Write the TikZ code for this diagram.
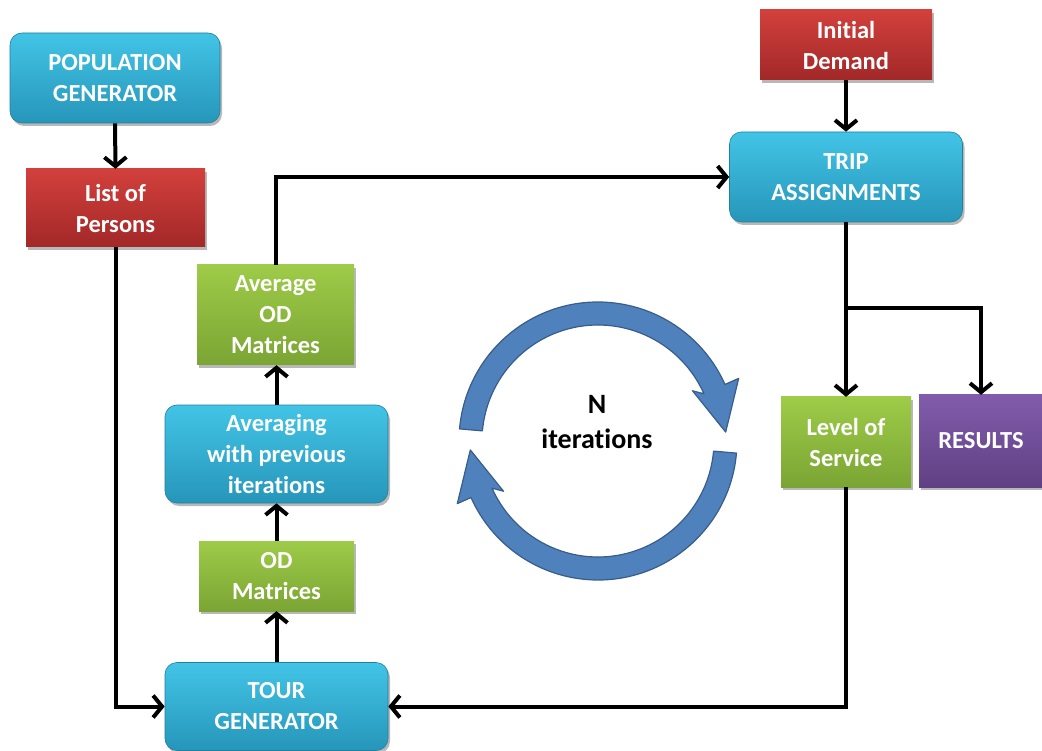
\documentclass[tikz,border=0pt]{standalone}
\usepackage{fontspec}
\setmainfont[Ligatures=NoCommon]{Carlito}
\usetikzlibrary{arrows.meta,shadows,calc}
\definecolor{cyTop}{RGB}{66,196,230}
\definecolor{cyBot}{RGB}{38,150,186}
\definecolor{rdTop}{RGB}{210,64,60}
\definecolor{rdBot}{RGB}{162,40,40}
\definecolor{grTop}{RGB}{158,203,72}
\definecolor{grBot}{RGB}{122,165,52}
\definecolor{puTop}{RGB}{130,92,172}
\definecolor{puBot}{RGB}{96,64,132}
\definecolor{cirFill}{RGB}{79,129,189}
\definecolor{cirLine}{RGB}{56,93,138}
\tikzset{
  box/.style={text=white, font=\bfseries\fontsize{24.5}{31}\selectfont, align=center, inner sep=0pt,
    drop shadow={shadow xshift=2pt, shadow yshift=-3pt, opacity=0.28, fill=black}},
  cyanbox/.style={box, rounded corners=12pt, top color=cyTop, bottom color=cyBot, draw=cyBot!85!black, line width=0.6pt},
  redbox/.style={box, top color=rdTop, bottom color=rdBot},
  greenbox/.style={box, top color=grTop, bottom color=grBot},
  purplebox/.style={box, top color=puTop, bottom color=puBot},
  arr/.style={line width=4pt, -{Straight Barb[length=9pt,width=22pt]}},
  circarrow/.style={fill=cirFill, draw=cirLine, line width=1.2pt, line join=round},
}
\begin{document}
\begin{tikzpicture}[x=1pt,y=1pt]
\useasboundingbox (0,0) rectangle (1042,-751);
% nodes
\node[cyanbox, minimum width=210pt, minimum height=90pt] (pop) at (115,-78) {POPULATION\\GENERATOR};
\node[redbox, minimum width=179pt, minimum height=78pt] (list) at (115.5,-208) {List of\\Persons};
\node[redbox, minimum width=172pt, minimum height=70pt] (init) at (846,-45) {Initial\\Demand};
\node[cyanbox, minimum width=233pt, minimum height=90pt] (trip) at (846,-177) {TRIP\\ASSIGNMENTS};
\node[greenbox, minimum width=157pt, minimum height=100pt] (avgod) at (275.5,-315) {Average\\OD\\Matrices};
\node[cyanbox, minimum width=223pt, minimum height=98pt] (avging) at (276.5,-454) {Averaging\\with previous\\iterations};
\node[greenbox, minimum width=155pt, minimum height=70pt] (od) at (276.5,-576) {OD\\Matrices};
\node[cyanbox, minimum width=223pt, minimum height=88pt] (tour) at (276.5,-706.5) {TOUR\\GENERATOR};
\node[greenbox, minimum width=130pt, minimum height=90pt] (los) at (846,-442) {Level of\\Service};
\node[purplebox, minimum width=124pt, minimum height=92pt] (res) at (981,-441) {RESULTS};
% circular arrows
\coordinate (c) at (598,-441);
\path[circarrow]
  ([shift={(175:139)}]c) arc[start angle=175, end angle=24, radius=139]
  -- ([shift={(24:154)}]c) -- ([shift={(4:128)}]c) -- ([shift={(28:107)}]c)
  -- ([shift={(24:116)}]c) arc[start angle=24, end angle=175, radius=116] -- cycle;
\path[circarrow]
  ([shift={(-5:139)}]c) arc[start angle=-5, end angle=-156, radius=139]
  -- ([shift={(-156:154)}]c) -- ([shift={(-176:128)}]c) -- ([shift={(-152:107)}]c)
  -- ([shift={(-156:116)}]c) arc[start angle=-156, end angle=-5, radius=116] -- cycle;
\node[font=\bfseries\fontsize{28}{35}\selectfont, align=center, inner sep=0pt] (iter) at (597,-422) {N\\iterations};
% connectors
\draw[arr] (pop.south) -- (list.north);
\draw[arr] (list.south) |- (tour.west);
\draw[arr] (tour.north) -- (od.south);
\draw[arr] (od.north) -- (avging.south);
\draw[arr] (avging.north) -- (avging.north |- avgod.south);
\draw[arr] (avgod.north) |- (trip.west);
\draw[arr] (init.south) -- (trip.north);
\draw[arr] (trip.south) -- (los.north);
\coordinate (br) at ($(trip.south)+(0,-86)$);
\draw[arr] (br) -| (res.north);
\draw[arr] (los.south) |- (tour.east);
\end{tikzpicture}
\end{document}
